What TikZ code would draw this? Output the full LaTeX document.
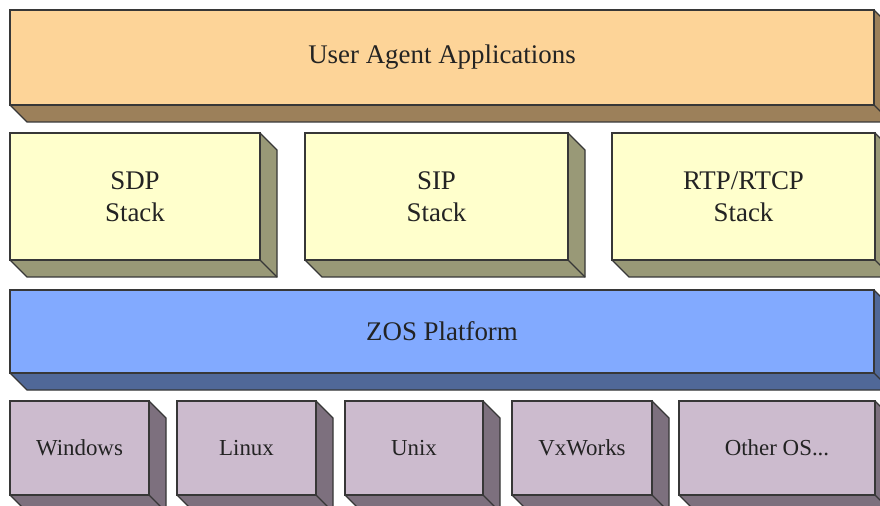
\documentclass[tikz,border=0pt]{standalone}
\usepackage{fontspec}
\setmainfont{Liberation Serif}
\usetikzlibrary{calc}

\definecolor{edge}{RGB}{55,55,55}
\definecolor{txt}{RGB}{35,35,35}
\definecolor{appfront}{RGB}{253,212,152}
\definecolor{appdark}{RGB}{156,128,90}
\definecolor{stackfront}{RGB}{255,255,204}
\definecolor{stackdark}{RGB}{153,153,119}
\definecolor{zosfront}{RGB}{130,170,255}
\definecolor{zosdark}{RGB}{80,104,152}
\definecolor{osfront}{RGB}{204,187,206}
\definecolor{osdark}{RGB}{125,112,126}

\tikzset{
  face/.style={draw=edge, line width=1.2bp, line join=miter},
  frontface/.style={face, inner sep=0pt, outer sep=0pt, text=txt, align=center},
  bigtext/.style={font=\fontsize{27}{32}\selectfont},
  smalltext/.style={font=\fontsize{23}{27}\selectfont}
}

% \slab{name}{x0}{y0}{x1}{y1}{front}{dark}{style}{text}
\newcommand{\slab}[9]{%
  \node[frontface, fill=#6, #8,
        minimum width={(#4-#2)*1bp}, minimum height={(#5-#3)*1bp}]
        (#1) at ({(#2+#4)/2},{(#3+#5)/2}) {#9};
  \fill[#7] (#1.north east) -- ++(17,17) -- ($(#1.south east)+(17,17)$)
        -- ($(#1.south west)+(17,17)$) -- (#1.south west) -- (#1.south east) -- cycle;
  \draw[face] (#1.north east) -- ++(17,17) -- ($(#1.south east)+(17,17)$)
        -- ($(#1.south west)+(17,17)$) -- (#1.south west);
  \draw[face] (#1.south east) -- ++(17,17);
  \draw[face] (#1.south west) rectangle (#1.north east);
}

\begin{document}
\begin{tikzpicture}[x=1bp, y=-1bp]
  \useasboundingbox (0,0) rectangle (880,506);
  \clip (0,0) rectangle (880,506);
  \fill[white] (0,0) rectangle (880,506);

  % application layer
  \slab{apps}{10}{10}{874}{105}{appfront}{appdark}{bigtext}{User Agent Applications}

  % protocol stacks
  \slab{sdp}{10}{133}{260}{260}{stackfront}{stackdark}{bigtext}{SDP\\Stack}
  \slab{sip}{305}{133}{568}{260}{stackfront}{stackdark}{bigtext}{SIP\\Stack}
  \slab{rtp}{612}{133}{875}{260}{stackfront}{stackdark}{bigtext}{RTP/RTCP\\Stack}

  % platform abstraction
  \slab{zos}{10}{290}{874}{373}{zosfront}{zosdark}{bigtext}{ZOS Platform}

  % operating systems
  \slab{win}{10}{401}{149}{495}{osfront}{osdark}{smalltext}{Windows}
  \slab{linux}{177}{401}{316}{495}{osfront}{osdark}{smalltext}{Linux}
  \slab{unix}{345}{401}{483}{495}{osfront}{osdark}{smalltext}{Unix}
  \slab{vx}{512}{401}{652}{495}{osfront}{osdark}{smalltext}{VxWorks}
  \slab{other}{679}{401}{875}{495}{osfront}{osdark}{smalltext}{Other OS...}
\end{tikzpicture}
\end{document}
